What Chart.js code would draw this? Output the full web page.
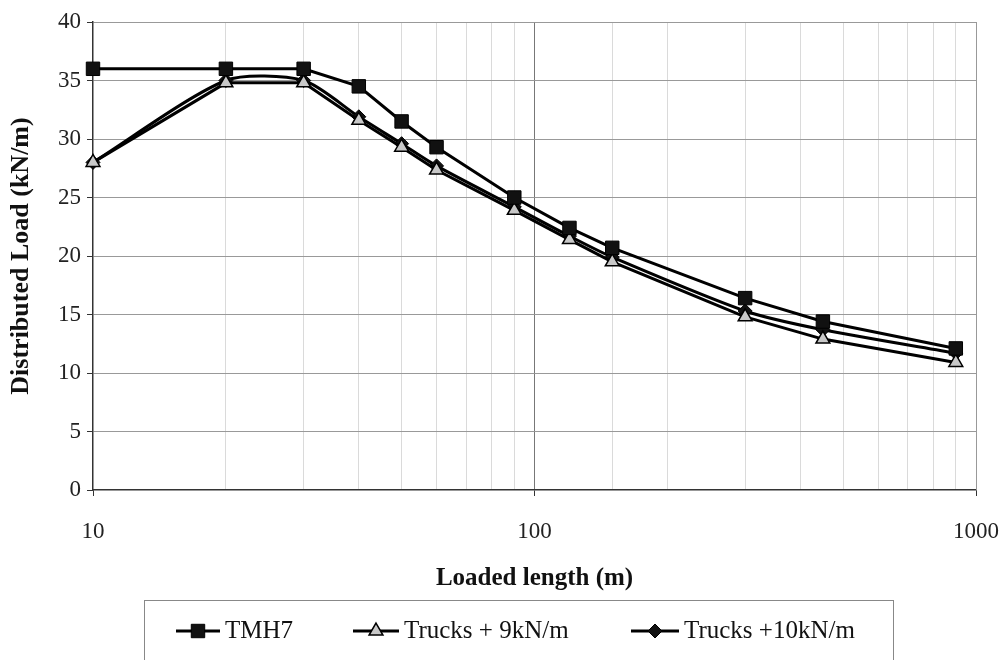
<!DOCTYPE html>
<html lang="en">
<head>
    <meta charset="UTF-8">
    <title>Distributed load vs loaded length</title>
    <script src="https://cdn.jsdelivr.net/npm/chart.js"></script>
    <style>
        html, body { margin: 0; padding: 0; background: #fff; overflow: hidden; }
        #wrap { width: 1004px; height: 660px; position: relative; }
    </style>
</head>
<body>
    <div id="wrap"><canvas id="loadChart" width="1004" height="660"></canvas></div>

    <script>
        // loaded lengths (m)
        const lengths = [10, 20, 30, 40, 50, 60, 90, 120, 150, 300, 450, 900];
        // distributed load (kN/m)
        const tmh7     = [36, 36, 36, 34.5, 31.5, 29.3, 25, 22.4, 20.7, 16.4, 14.4, 12.1];
        const trucks9  = [28, 34.8, 34.8, 31.6, 29.3, 27.35, 23.9, 21.4, 19.5, 14.8, 12.9, 10.9];
        const trucks10 = [28, 35, 35, 31.9, 29.6, 27.7, 24.2, 21.7, 19.9, 15.3, 13.7, 11.7];
        const seriesNames = ['TMH7', 'Trucks + 9kN/m', 'Trucks +10kN/m'];
        const xTickLabels = [10, 100, 1000];
        const yTicks = [0, 5, 10, 15, 20, 25, 30, 35, 40];

        const serif = "'Liberation Serif', 'Times New Roman', serif";

        function pts(ys) {
            return lengths.map((x, i) => ({ x: x, y: ys[i] }));
        }

        function isDecade(v) {
            const l = Math.log10(v);
            return Math.abs(l - Math.round(l)) < 1e-9;
        }

        // legend drawn below the plot, in a box like the original
        const boxLegend = {
            id: 'boxLegend',
            afterDraw(chart) {
                const ctx = chart.ctx;
                const y = 631;
                ctx.save();
                ctx.strokeStyle = '#888';
                ctx.lineWidth = 1;
                ctx.strokeRect(144.5, 600.5, 749, 80);

                const items = [
                    { x0: 176, x1: 220, tx: 225, ds: 0 },
                    { x0: 353, x1: 399, tx: 404, ds: 1 },
                    { x0: 631, x1: 679, tx: 684, ds: 2 }
                ];
                items.forEach(it => {
                    const d = chart.data.datasets[it.ds];
                    ctx.strokeStyle = '#000';
                    ctx.lineWidth = 3;
                    ctx.beginPath();
                    ctx.moveTo(it.x0, y);
                    ctx.lineTo(it.x1, y);
                    ctx.stroke();
                    ctx.fillStyle = d.pointBackgroundColor;
                    ctx.strokeStyle = d.pointBorderColor;
                    ctx.lineWidth = d.pointBorderWidth;
                    Chart.helpers.drawPoint(ctx, {
                        pointStyle: d.pointStyle,
                        radius: d.pointRadius,
                        rotation: 0,
                        borderWidth: d.pointBorderWidth
                    }, (it.x0 + it.x1) / 2, y);
                    ctx.fillStyle = '#111';
                    ctx.font = '25px ' + serif;
                    ctx.textBaseline = 'middle';
                    ctx.textAlign = 'left';
                    ctx.fillText(seriesNames[it.ds], it.tx, y);
                });
                ctx.restore();
            }
        };

        // draw the right-hand frame line of the plot area
        const frame = {
            id: 'frame',
            beforeDatasetsDraw(chart) {
                const a = chart.chartArea;
                const ctx = chart.ctx;
                ctx.save();
                ctx.strokeStyle = '#999';
                ctx.lineWidth = 1;
                ctx.beginPath();
                ctx.moveTo(a.right + 0.5, a.top);
                ctx.lineTo(a.right + 0.5, a.bottom);
                ctx.stroke();
                ctx.restore();
            }
        };

        const ctx = document.getElementById('loadChart').getContext('2d');
        new Chart(ctx, {
            type: 'line',
            data: {
                datasets: [
                    {
                        label: seriesNames[0],
                        data: pts(tmh7),
                        borderColor: '#000',
                        borderWidth: 3,
                        pointStyle: 'rect',
                        pointRadius: 9.5,
                        pointBackgroundColor: '#111',
                        pointBorderColor: '#000',
                        pointBorderWidth: 1,
                        tension: 0,
                        clip: false
                    },
                    {
                        label: seriesNames[1],
                        data: pts(trucks9),
                        borderColor: '#000',
                        borderWidth: 3,
                        pointStyle: 'triangle',
                        pointRadius: 8,
                        pointBackgroundColor: '#c8c8c8',
                        pointBorderColor: '#000',
                        pointBorderWidth: 1.5,
                        tension: 0,
                        clip: false
                    },
                    {
                        label: seriesNames[2],
                        data: pts(trucks10),
                        borderColor: '#000',
                        borderWidth: 3,
                        pointStyle: 'rectRot',
                        pointRadius: 7,
                        pointBackgroundColor: '#111',
                        pointBorderColor: '#000',
                        pointBorderWidth: 1,
                        tension: 0.25,
                        clip: false
                    }
                ]
            },
            options: {
                responsive: false,
                animation: false,
                devicePixelRatio: 1,
                layout: { padding: { left: 0, top: 22, right: 28, bottom: 60 } },
                plugins: {
                    legend: { display: false },
                    tooltip: { enabled: false }
                },
                scales: {
                    x: {
                        type: 'logarithmic',
                        min: 10,
                        max: 1000,
                        afterFit(scale) {
                            scale.height = 110;
                            scale.paddingLeft = 0;
                            scale.paddingRight = 0;
                        },
                        border: { color: '#333', width: 1.5 },
                        grid: {
                            color: c => {
                                const v = c.tick ? c.tick.value : 0;
                                if (v === 10) return 'rgba(0,0,0,0)';
                                if (v === 1000) return 'rgba(0,0,0,0)';
                                return isDecade(v) ? '#777' : '#dadada';
                            },
                            tickColor: c => {
                                const v = c.tick ? c.tick.value : 0;
                                return isDecade(v) ? '#333' : 'rgba(0,0,0,0)';
                            },
                            tickLength: 6
                        },
                        ticks: {
                            autoSkip: false,
                            maxRotation: 0,
                            padding: 22,
                            color: '#222',
                            font: { family: serif, size: 23 },
                            callback: v => xTickLabels.includes(v) ? String(v) : ''
                        },
                        title: {
                            display: true,
                            text: 'Loaded length (m)',
                            color: '#111',
                            font: { family: serif, size: 25, weight: 'bold' },
                            padding: { top: 0, bottom: 6 }
                        }
                    },
                    y: {
                        min: 0,
                        max: 40,
                        afterFit(scale) { scale.width = 93; },
                        afterBuildTicks(scale) {
                            scale.ticks = yTicks.map(v => ({ value: v }));
                        },
                        border: { color: '#333', width: 1.5 },
                        grid: {
                            color: c => (c.tick && c.tick.value === 0) ? 'rgba(0,0,0,0)' : '#999',
                            tickColor: '#333',
                            tickLength: 6
                        },
                        ticks: {
                            padding: 6,
                            color: '#222',
                            font: { family: serif, size: 23 }
                        },
                        title: {
                            display: true,
                            text: 'Distributed Load (kN/m)',
                            color: '#111',
                            font: { family: serif, size: 26, weight: 'bold' },
                            padding: { top: 6, bottom: 0 }
                        }
                    }
                }
            },
            plugins: [frame, boxLegend]
        });
    </script>
</body>
</html>
